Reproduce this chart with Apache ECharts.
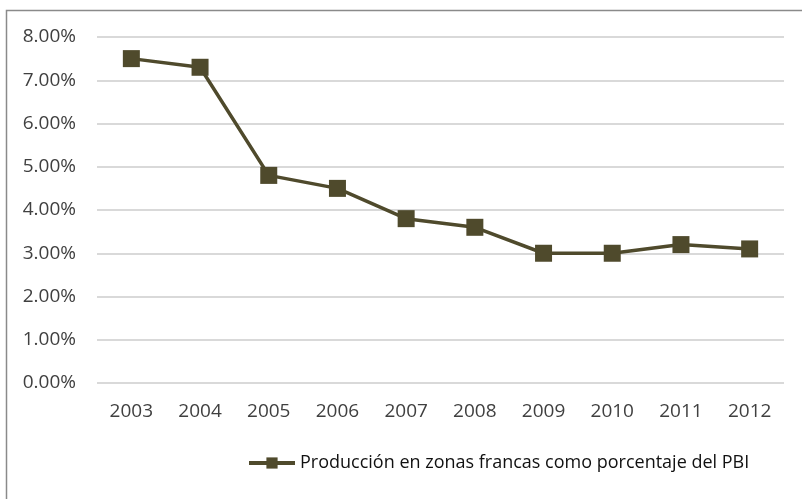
<!DOCTYPE html>
<html>
<head>
<meta charset="utf-8">
<script src="https://cdn.jsdelivr.net/npm/echarts@6/dist/echarts.min.js"></script>
<style>
html, body { margin: 0; padding: 0; background: #fff; }
#main { width: 802px; height: 499px; }
</style>
</head>
<body>
<div id="main"></div>
<script>
// datos
var years = ['2003', '2004', '2005', '2006', '2007', '2008', '2009', '2010', '2011', '2012'];
var pctPBI = [7.5, 7.3, 4.8, 4.5, 3.8, 3.6, 3.0, 3.0, 3.2, 3.1];
var seriesName = 'Producción en zonas francas como porcentaje del PBI';

var myChart = echarts.init(document.getElementById('main'));
var lineColor = '#4f4a2c';

var option = {
    backgroundColor: '#fff',
    textStyle: { fontFamily: 'Open Sans' },
    graphic: [{
        type: 'rect',
        shape: { x: 6.5, y: 10.5, width: 820, height: 520 },
        style: { fill: 'none', stroke: '#8a8a8a', lineWidth: 1.5 },
        silent: true
    }],
    grid: {
        left: 97,
        right: 18,
        top: 37,
        bottom: 116
    },
    legend: {
        data: [seriesName],
        left: 242,
        top: 449,
        itemWidth: 46,
        itemHeight: 14,
        itemGap: 3,
        lineStyle: { width: 4 },
        textStyle: { color: '#111', fontSize: 18, fontFamily: 'Open Sans' }
    },
    xAxis: {
        type: 'category',
        data: years,
        boundaryGap: true,
        axisLine: { show: false },
        axisTick: { show: false },
        axisLabel: { color: '#404040', fontSize: 19, margin: 19 }
    },
    yAxis: {
        type: 'value',
        min: 0,
        max: 8,
        interval: 1,
        axisLine: { show: false },
        axisTick: { show: false },
        splitLine: { lineStyle: { color: '#d9d9d9', width: 2 } },
        axisLabel: {
            color: '#404040',
            fontSize: 19,
            margin: 21,
            formatter: function (v) { return v.toFixed(2) + '%'; }
        }
    },
    series: [{
        name: seriesName,
        type: 'line',
        data: pctPBI,
        symbol: 'rect',
        symbolSize: 17,
        lineStyle: { color: lineColor, width: 3.5 },
        itemStyle: { color: lineColor },
        animation: false
    }]
};

myChart.setOption(option);
</script>
</body>
</html>
